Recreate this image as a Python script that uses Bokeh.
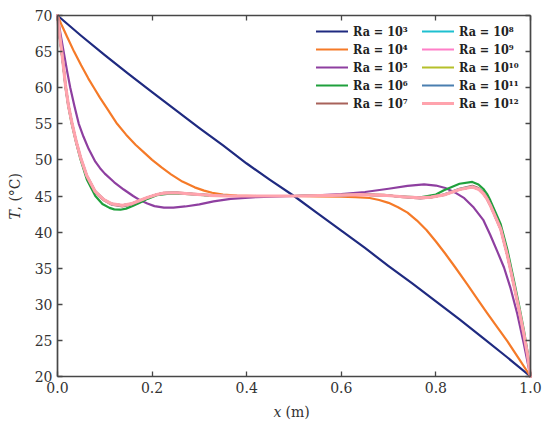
import math
from bokeh.plotting import figure
from bokeh.models import (Legend, LegendItem, LinearAxis, FixedTicker, Label,
                          Range1d, NumeralTickFormatter)
from bokeh.embed import file_html
from bokeh.resources import INLINE

# ---------------- data ----------------
ra_labels = ["Ra = 10³", "Ra = 10⁴", "Ra = 10⁵", "Ra = 10⁶", "Ra = 10⁷",
             "Ra = 10⁸", "Ra = 10⁹", "Ra = 10¹⁰", "Ra = 10¹¹", "Ra = 10¹²"]
colors = ["#1f2a80", "#f57a28", "#8e3fa0", "#1fa03c", "#a8625a",
          "#1ec0d0", "#ff7fc8", "#b5c02a", "#4a7fb0", "#ffa3ad"]

x_ticks = [0.0, 0.2, 0.4, 0.6, 0.8, 1.0]
y_ticks = [20, 25, 30, 35, 40, 45, 50, 55, 60, 65, 70]
x_limits = (0.0, 1.0)
y_limits = (20, 70)

x_ra3 = [0, 0.05, 0.1, 0.15, 0.2, 0.25, 0.3, 0.35, 0.4, 0.45, 0.5, 0.55, 0.6,
         0.65, 0.7, 0.75, 0.8, 0.85, 0.9, 0.95, 1.0]
T_ra3 = [70, 67.2, 64.5, 61.9, 59.4, 56.9, 54.4, 52.0, 49.5, 47.2, 45.0, 42.6,
         40.2, 37.8, 35.3, 32.9, 30.4, 27.9, 25.3, 22.7, 20.0]

x_ra4 = [0, 0.01, 0.02, 0.035, 0.05, 0.065, 0.077, 0.09, 0.105, 0.126, 0.145,
         0.165, 0.185, 0.2, 0.22, 0.24, 0.264, 0.29, 0.31, 0.327, 0.35, 0.38,
         0.42, 0.5, 0.55, 0.6, 0.63, 0.66, 0.68, 0.7, 0.72, 0.74, 0.76, 0.78,
         0.8, 0.82, 0.84, 0.866, 0.89, 0.908, 0.93, 0.951, 0.975, 1.0]
T_ra4 = [70, 68.5, 67.1, 65.0, 63.1, 61.3, 60.0, 58.6, 57.1, 55.0, 53.5, 52.1,
         50.9, 50.0, 48.95, 48.0, 47.0, 46.2, 45.75, 45.45, 45.2, 45.05, 45.0,
         45.0, 44.95, 44.9, 44.85, 44.72, 44.45, 44.05, 43.45, 42.7, 41.6,
         40.3, 38.7, 37.0, 35.2, 32.8, 30.5, 28.8, 26.8, 24.9, 22.5, 20.0]

x_ra5 = [0, 0.006, 0.013, 0.02, 0.027, 0.036, 0.045, 0.055, 0.066, 0.08, 0.09,
         0.1, 0.12, 0.14, 0.16, 0.175, 0.19, 0.205, 0.225, 0.245, 0.27, 0.3,
         0.33, 0.366, 0.42, 0.47, 0.5, 0.55, 0.6, 0.65, 0.7, 0.74, 0.775, 0.8,
         0.82, 0.84, 0.86, 0.88, 0.9, 0.915, 0.93, 0.944, 0.958, 0.972, 0.986,
         1.0]
T_ra5 = [70, 67.6, 65.0, 62.4, 60.0, 57.4, 55.0, 53.2, 51.5, 49.75, 48.85,
         48.1, 46.9, 45.9, 45.0, 44.4, 43.95, 43.6, 43.4, 43.4, 43.55, 43.85,
         44.25, 44.6, 44.85, 44.95, 45.0, 45.1, 45.25, 45.55, 46.0, 46.4, 46.6,
         46.45, 46.1, 45.5, 44.7, 43.4, 41.7, 39.6, 37.3, 35.1, 32.2, 28.7,
         24.5, 20.0]

x_ra6 = [0, 0.004, 0.0085, 0.013, 0.017, 0.023, 0.03, 0.039, 0.049, 0.062, 0.08,
         0.095, 0.11, 0.12, 0.133, 0.145, 0.16, 0.175, 0.19, 0.21, 0.24, 0.27,
         0.31, 0.36, 0.42, 0.5, 0.58, 0.64, 0.69, 0.73, 0.767, 0.8, 0.817, 0.85,
         0.877, 0.89, 0.9, 0.908, 0.915, 0.925, 0.937, 0.951, 0.965, 0.976,
         0.986, 0.994, 1.0]
T_ra6 = [70, 67.4, 65.0, 62.5, 60.0, 57.4, 55.0, 52.5, 50.0, 47.3, 45.0, 43.9,
         43.35, 43.15, 43.1, 43.25, 43.65, 44.1, 44.6, 45.1, 45.35, 45.3, 45.1,
         45.0, 45.0, 45.0, 45.1, 45.2, 45.1, 44.9, 44.8, 45.2, 45.8, 46.7, 46.95,
         46.6, 46.0, 45.3, 44.4, 42.9, 41.1, 37.6, 33.3, 29.8, 26.4, 23.3, 20.0]

x_band = [0, 0.004, 0.0085, 0.013, 0.017, 0.023, 0.03, 0.039, 0.049, 0.062, 0.08,
          0.098, 0.115, 0.137, 0.155, 0.175, 0.19, 0.21, 0.225, 0.25, 0.28, 0.32,
          0.36, 0.42, 0.5, 0.58, 0.64, 0.69, 0.73, 0.767, 0.79, 0.817, 0.85,
          0.877, 0.89, 0.9, 0.908, 0.915, 0.925, 0.937, 0.951, 0.965, 0.976,
          0.986, 0.994, 1.0]
T_ra7 = [70, 67.4, 65.1, 62.6, 60.2, 57.5, 55.2, 52.6, 50.2, 47.7, 45.5, 44.4,
         43.8, 43.55, 43.8, 44.3, 44.75, 45.2, 45.45, 45.5, 45.35, 45.15, 45.0,
         45.0, 45.0, 45.1, 45.25, 45.15, 44.85, 44.65, 44.8, 45.2, 46.0, 46.4,
         46.1, 45.5, 44.75, 43.85, 42.35, 40.55, 36.9, 32.7, 29.3, 26.0, 23.0,
         20.0]
T_ra8 = [70, 67.5, 65.2, 62.7, 60.3, 57.6, 55.3, 52.7, 50.3, 47.8, 45.6, 44.5,
         43.85, 43.65, 43.85, 44.35, 44.8, 45.2, 45.4, 45.45, 45.3, 45.1, 45.0,
         45.0, 45.0, 45.1, 45.2, 45.1, 44.9, 44.7, 44.85, 45.2, 45.95, 46.3,
         46.0, 45.4, 44.65, 43.75, 42.25, 40.45, 36.85, 32.65, 29.25, 25.95,
         22.95, 20.0]
T_ra9 = [70, 67.5, 65.2, 62.7, 60.3, 57.6, 55.3, 52.7, 50.3, 47.8, 45.6, 44.5,
         43.9, 43.7, 43.9, 44.4, 44.8, 45.2, 45.4, 45.45, 45.3, 45.1, 45.0, 45.0,
         45.0, 45.1, 45.2, 45.1, 44.9, 44.75, 44.85, 45.15, 45.9, 46.25, 45.95,
         45.35, 44.6, 43.7, 42.2, 40.4, 36.8, 32.6, 29.2, 25.9, 22.9, 20.0]
T_ra10 = [70, 67.5, 65.2, 62.7, 60.3, 57.6, 55.3, 52.7, 50.3, 47.8, 45.6, 44.5,
          43.9, 43.7, 43.9, 44.4, 44.8, 45.2, 45.4, 45.45, 45.3, 45.1, 45.0, 45.0,
          45.0, 45.1, 45.2, 45.1, 44.9, 44.75, 44.85, 45.15, 45.9, 46.25, 45.95,
          45.35, 44.6, 43.7, 42.2, 40.4, 36.8, 32.6, 29.2, 25.9, 22.9, 20.0]
T_ra11 = [70, 67.5, 65.2, 62.7, 60.3, 57.6, 55.3, 52.7, 50.3, 47.8, 45.6, 44.5,
          43.9, 43.7, 43.9, 44.4, 44.8, 45.2, 45.4, 45.45, 45.3, 45.1, 45.0, 45.0,
          45.0, 45.1, 45.2, 45.1, 44.9, 44.75, 44.85, 45.15, 45.9, 46.25, 45.95,
          45.35, 44.6, 43.7, 42.2, 40.4, 36.8, 32.6, 29.2, 25.9, 22.9, 20.0]
T_ra12 = [70, 67.5, 65.2, 62.7, 60.3, 57.6, 55.3, 52.7, 50.3, 47.8, 45.6, 44.5,
          43.9, 43.7, 43.9, 44.4, 44.8, 45.2, 45.4, 45.45, 45.3, 45.1, 45.0, 45.0,
          45.0, 45.1, 45.2, 45.1, 44.9, 44.75, 44.85, 45.15, 45.9, 46.25, 45.95,
          45.35, 44.6, 43.7, 42.2, 40.4, 36.8, 32.6, 29.2, 25.9, 22.9, 20.0]

series_x = [x_ra3, x_ra4, x_ra5, x_ra6, x_band, x_band, x_band, x_band, x_band, x_band]
series_T = [T_ra3, T_ra4, T_ra5, T_ra6, T_ra7, T_ra8, T_ra9, T_ra10, T_ra11, T_ra12]

# ---------------- layout (pixels) ----------------
W, H = 550, 423
PL, PR, PT, PB = 57, 530, 15, 376          # plot box in canvas pixels
sx = (x_limits[1] - x_limits[0]) / (PR - PL)
sy = (y_limits[1] - y_limits[0]) / (PB - PT)
x_rng = Range1d(x_limits[0] - PL * sx, x_limits[1] + (W - PR) * sx)
y_rng = Range1d(y_limits[0] - (H - PB) * sy, y_limits[1] + PT * sy)

p = figure(width=W, height=H, output_backend="svg", toolbar_location=None,
           x_range=x_rng, y_range=y_rng, min_border=0)
p.xgrid.grid_line_color = None
p.ygrid.grid_line_color = None
p.outline_line_color = None
p.background_fill_color = "white"
p.border_fill_color = "white"

AX = "#474747"

def style_axis(ax, show_labels=True):
    ax.axis_line_color = AX
    ax.axis_line_width = 1.7
    ax.major_tick_in = 5
    ax.major_tick_out = 0
    ax.major_tick_line_color = AX
    ax.major_tick_line_width = 1.3
    ax.minor_tick_line_color = None
    ax.major_label_text_font = "DejaVu Serif"
    ax.major_label_standoff = 5
    if show_labels:
        ax.major_label_text_font_size = "14px"
        ax.major_label_text_color = "#333333"
    else:
        ax.major_label_text_font_size = "0px"
        ax.major_label_text_color = None
        ax.major_label_standoff = 0

xa = p.xaxis[0]
ya = p.yaxis[0]
style_axis(xa)
style_axis(ya)
xa.ticker = FixedTicker(ticks=x_ticks)
xa.formatter = NumeralTickFormatter(format="0.0")
xa.fixed_location = y_limits[0]
xa.bounds = x_limits
ya.ticker = FixedTicker(ticks=y_ticks)
ya.fixed_location = x_limits[0]
ya.bounds = y_limits

top = LinearAxis(ticker=FixedTicker(ticks=x_ticks), fixed_location=y_limits[1],
                 bounds=x_limits)
style_axis(top, False)
p.add_layout(top, "above")
right = LinearAxis(ticker=FixedTicker(ticks=y_ticks), fixed_location=x_limits[1],
                   bounds=y_limits)
style_axis(right, False)
p.add_layout(right, "right")

renderers = []
for i, (xs, ts) in enumerate(zip(series_x, series_T)):
    lw = 3.2 if i == 9 else 2.2
    r = p.line(xs, ts, line_color=colors[i], line_width=lw, line_join="round",
               line_cap="round")
    renderers.append(r)

def make_legend(idx, vx):
    items = [LegendItem(label=ra_labels[i], renderers=[renderers[i]]) for i in idx]
    return Legend(items=items, location=(vx, H - 22 - 90), orientation="vertical",
                  padding=0, spacing=0, margin=0, glyph_width=32,
                  glyph_height=18, label_height=18, label_standoff=5,
                  label_text_font="DejaVu Serif Condensed, DejaVu Serif",
                  label_text_font_style="bold", label_text_font_size="12.5px",
                  label_text_color="#222222",
                  border_line_color=None, background_fill_alpha=0)

p.add_layout(make_legend([0, 1, 2, 3, 4], 316))
p.add_layout(make_legend([5, 6, 7, 8, 9], 422))

# axis titles (italic variable + upright unit)
lab_kw = dict(x_units="screen", y_units="screen", text_font="DejaVu Serif",
              text_font_size="14px", text_color="#333333", text_baseline="middle")
p.add_layout(Label(x=281, y=H - 411, text="x", text_font_style="italic",
                   text_align="right", **lab_kw))
p.add_layout(Label(x=285, y=H - 411, text="(m)", text_align="left", **lab_kw))
p.add_layout(Label(x=14, y=H - 219, text="T", text_font_style="italic",
                   angle=math.pi / 2, text_align="left", **lab_kw))
p.add_layout(Label(x=14, y=H - 210, text=", (°C)", angle=math.pi / 2,
                   text_align="left", **lab_kw))

open("out.html", "w").write(file_html(p, INLINE))
